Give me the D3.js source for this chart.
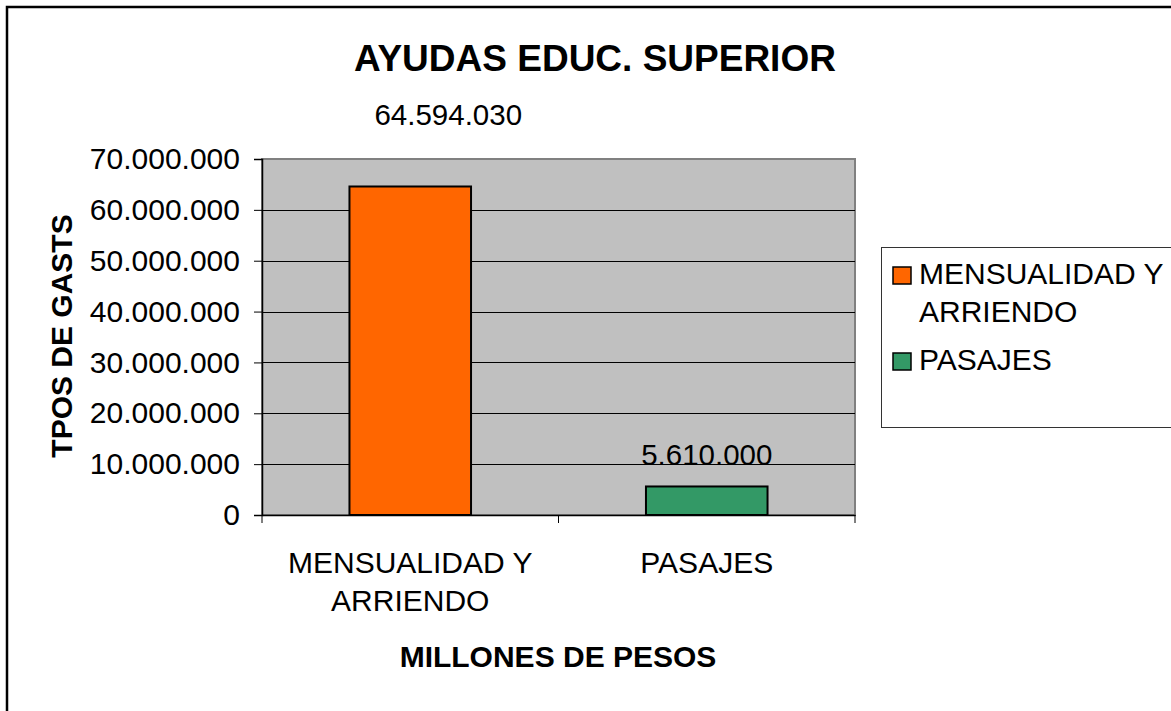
<!DOCTYPE html>
<meta charset="utf-8">
<script src="https://d3js.org/d3.v7.min.js"></script>
<style>
  body { margin: 0; background: #fff; }
  text { font-family: "Liberation Sans", Arial, sans-serif; fill: #000; }
</style>
<div id="chart"></div>
<script>
// data
const categories = ["MENSUALIDAD Y ARRIENDO", "PASAJES"];
const categoryLines = [["MENSUALIDAD Y", "ARRIENDO"], ["PASAJES"]];
const values = [64594030, 5610000];
const colors = ["#FF6600", "#339966"];
const yTicks = [0, 10000000, 20000000, 30000000, 40000000, 50000000, 60000000, 70000000];

const W = 1171, H = 711;
const plot = { left: 262, right: 855, top: 159, bottom: 515 };

const loc = d3.formatLocale({ decimal: ",", thousands: ".", grouping: [3], currency: ["$", ""] });
const fmt = loc.format(",d");

const svg = d3.select("#chart").append("svg")
  .attr("width", W).attr("height", H);

// outer chart border (only left/top visible)
svg.append("rect")
  .attr("x", 7).attr("y", 7).attr("width", W + 20).attr("height", H + 20)
  .attr("fill", "#fff").attr("stroke", "#000").attr("stroke-width", 2.5);

const x = d3.scaleBand().domain(categories).range([plot.left, plot.right]);
const y = d3.scaleLinear().domain([0, 70000000]).range([plot.bottom, plot.top]);

// plot background
svg.append("rect")
  .attr("x", plot.left).attr("y", plot.top)
  .attr("width", plot.right - plot.left).attr("height", plot.bottom - plot.top)
  .attr("fill", "#C0C0C0").attr("stroke", "#808080").attr("stroke-width", 2);

// gridlines
svg.append("g").selectAll("line")
  .data(yTicks.filter(d => d > 0 && d < 70000000))
  .join("line")
  .attr("x1", plot.left).attr("x2", plot.right)
  .attr("y1", d => Math.round(y(d)) + 0.5).attr("y2", d => Math.round(y(d)) + 0.5)
  .attr("stroke", "#000").attr("stroke-width", 1);

// y axis
const yAxis = svg.append("g")
  .attr("transform", `translate(${plot.left},0)`)
  .call(d3.axisLeft(y).tickValues(yTicks).tickFormat(fmt).tickSize(8).tickPadding(14));
yAxis.select(".domain").attr("stroke", "#000").attr("stroke-width", 1.5);
yAxis.selectAll(".tick line").attr("stroke", "#000");
yAxis.selectAll(".tick text")
  .style("font-size", "30px").attr("fill", "#000");

// x axis
const xAxis = svg.append("g")
  .attr("transform", `translate(0,${plot.bottom})`)
  .call(d3.axisBottom(x).tickValues([]).tickSizeOuter(0));
xAxis.select(".domain").attr("stroke", "#000").attr("stroke-width", 1.5);
// tick marks at category boundaries
xAxis.selectAll("line.sep")
  .data([plot.left, x(categories[1]), plot.right])
  .join("line").attr("class", "sep")
  .attr("x1", d => d).attr("x2", d => d)
  .attr("y1", 0).attr("y2", 8)
  .attr("stroke", "#000");

// category labels
categories.forEach((c, i) => {
  const t = svg.append("text")
    .attr("text-anchor", "middle")
    .style("font-size", "30px");
  categoryLines[i].forEach((ln, j) => {
    t.append("tspan")
      .attr("x", x(c) + x.bandwidth() / 2)
      .attr("y", 573 + j * 38)
      .text(ln);
  });
});

// bars
const bw = x.bandwidth() * 0.41;
svg.append("g").selectAll("rect")
  .data(values)
  .join("rect")
  .attr("x", (d, i) => x(categories[i]) + (x.bandwidth() - bw) / 2)
  .attr("y", d => y(d))
  .attr("width", bw)
  .attr("height", d => y(0) - y(d))
  .attr("fill", (d, i) => colors[i])
  .attr("stroke", "#000").attr("stroke-width", 2);

// value labels
svg.append("g").selectAll("text")
  .data(values)
  .join("text")
  .attr("text-anchor", "middle")
  .attr("x", (d, i) => x(categories[i]) + x.bandwidth() / 2 + (i === 0 ? 38 : 0))
  .attr("y", (d, i) => i === 0 ? 125 : y(d) - 21)
  .style("font-size", "29.5px")
  .text(d => fmt(d));

// title
svg.append("text")
  .attr("x", 595).attr("y", 71)
  .attr("text-anchor", "middle")
  .style("font-size", "37px").style("font-weight", "bold")
  .text("AYUDAS EDUC. SUPERIOR");

// axis titles
svg.append("text")
  .attr("x", 558).attr("y", 667)
  .attr("text-anchor", "middle")
  .style("font-size", "30px").style("font-weight", "bold")
  .text("MILLONES DE PESOS");

svg.append("text")
  .attr("transform", "translate(72,336) rotate(-90)")
  .attr("text-anchor", "middle")
  .style("font-size", "30px").style("font-weight", "bold")
  .text("TPOS DE GASTS");

// legend
const lg = svg.append("g");
lg.append("rect")
  .attr("x", 881.5).attr("y", 247.5).attr("width", 320).attr("height", 180)
  .attr("fill", "#fff").attr("stroke", "#333").attr("stroke-width", 1);
const legendItems = [
  { lines: ["MENSUALIDAD Y", "ARRIENDO"], color: colors[0], y: 284 },
  { lines: ["PASAJES"], color: colors[1], y: 370 }
];
legendItems.forEach(it => {
  lg.append("rect")
    .attr("x", 893).attr("y", it.y - 17).attr("width", 18).attr("height", 17)
    .attr("fill", it.color).attr("stroke", "#000").attr("stroke-width", 1.5);
  const t = lg.append("text").style("font-size", "30px");
  it.lines.forEach((ln, j) => {
    t.append("tspan").attr("x", 919).attr("y", it.y + j * 38).text(ln);
  });
});
</script>
